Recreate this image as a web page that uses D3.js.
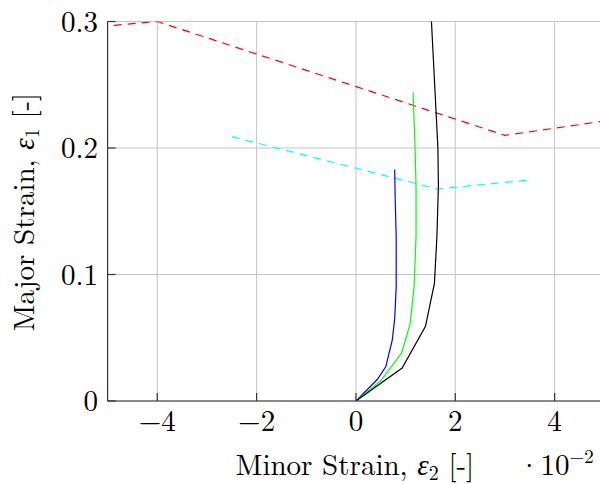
<!DOCTYPE html>
<html>
<head>
<meta charset="utf-8">
<script src="https://cdn.jsdelivr.net/npm/d3@7"></script>
<style>
  body { margin: 0; background: #fff; }
  svg { display: block; overflow: hidden; }
  text { font-family: "Latin Modern Roman", "CMU Serif", "Liberation Serif", serif; fill: #000; }
</style>
</head>
<body>
<svg id="chart" width="600" height="484"></svg>
<script>
// tick values (x axis is in units of 10^-2)
var xTicks = [-4, -2, 0, 2, 4];
var yTicks = [0, 0.1, 0.2, 0.3];

// forming limit curves
var redX = [-6, -4, 3, 6];
var redY = [0.293, 0.3, 0.21, 0.227];
var cyanX = [-2.5, 1.64, 3.5];
var cyanY = [0.209, 0.1676, 0.1747];

// strain paths
var blackX = [0, 0.93, 1.40, 1.58, 1.63, 1.66, 1.65, 1.52, 1.48];
var blackY = [0, 0.026, 0.059, 0.093, 0.13, 0.17, 0.2, 0.3, 0.33];
var greenX = [0, 0.5, 0.92, 1.09, 1.17, 1.21, 1.21, 1.19, 1.15];
var greenY = [0, 0.016, 0.038, 0.061, 0.09, 0.13, 0.17, 0.2, 0.244];
var blueX = [0, 0.43, 0.6, 0.73, 0.78, 0.81, 0.81, 0.79, 0.78];
var blueY = [0, 0.017, 0.027, 0.048, 0.065, 0.09, 0.13, 0.16, 0.183];

(function() {
  var svg = d3.select('#chart');
  var mLeft = 107.6, mRight = 604.3, mTop = 21.5, mBottom = 401;

  var x = d3.scaleLinear().domain([-5, 5]).range([mLeft, mRight]);
  var y = d3.scaleLinear().domain([0, 0.3]).range([mBottom, mTop]);

  svg.append('clipPath').attr('id', 'clip')
    .append('rect')
    .attr('x', mLeft).attr('y', mTop)
    .attr('width', mRight - mLeft).attr('height', mBottom - mTop);

  // grid
  var grid = svg.append('g').attr('stroke', '#c4c4c4').attr('stroke-width', 1);
  grid.selectAll('.gx').data(xTicks).enter().append('line')
    .attr('x1', function(d) { return x(d); }).attr('x2', function(d) { return x(d); })
    .attr('y1', mTop).attr('y2', mBottom);
  grid.selectAll('.gy').data(yTicks).enter().append('line')
    .attr('x1', mLeft).attr('x2', mRight)
    .attr('y1', function(d) { return y(d); }).attr('y2', function(d) { return y(d); });

  // curves
  var line = d3.line()
    .x(function(d) { return x(d[0]); })
    .y(function(d) { return y(d[1]); });

  var series = [
    {xs: redX, ys: redY, color: '#ff0000', dash: '8,6'},
    {xs: cyanX, ys: cyanY, color: '#00ffff', dash: '8,6'},
    {xs: blueX, ys: blueY, color: '#0000ff', dash: null},
    {xs: greenX, ys: greenY, color: '#00ff00', dash: null},
    {xs: blackX, ys: blackY, color: '#000000', dash: null}
  ];

  var plot = svg.append('g').attr('clip-path', 'url(#clip)');
  series.forEach(function(s) {
    plot.append('path')
      .datum(d3.zip(s.xs, s.ys))
      .attr('d', line)
      .attr('fill', 'none')
      .attr('stroke', s.color)
      .attr('stroke-width', 1.2)
      .attr('stroke-dasharray', s.dash);
  });

  // axes: left and bottom only, inward ticks
  var axes = svg.append('g').attr('stroke', '#333').attr('stroke-width', 1.2);
  axes.append('line').attr('x1', mLeft).attr('x2', mLeft).attr('y1', mTop).attr('y2', mBottom);
  axes.append('line').attr('x1', mLeft).attr('x2', mRight).attr('y1', mBottom).attr('y2', mBottom);
  axes.selectAll('.tx').data(xTicks).enter().append('line')
    .attr('x1', function(d) { return x(d); }).attr('x2', function(d) { return x(d); })
    .attr('y1', mBottom).attr('y2', mBottom - 8);
  axes.selectAll('.ty').data(yTicks).enter().append('line')
    .attr('x1', mLeft).attr('x2', mLeft + 8)
    .attr('y1', function(d) { return y(d); }).attr('y2', function(d) { return y(d); });

  // tick labels
  svg.selectAll('.lx').data(xTicks).enter().append('text')
    .attr('x', function(d) { return x(d); })
    .attr('y', 431)
    .attr('text-anchor', 'middle')
    .style('font-size', '29px')
    .text(function(d) { return d < 0 ? '\u2212' + (-d) : d; });

  svg.selectAll('.ly').data(yTicks).enter().append('text')
    .attr('x', 98)
    .attr('y', function(d) { return y(d) + 10; })
    .attr('text-anchor', 'end')
    .style('font-size', '29px')
    .text(function(d) { return d === 0 ? '0' : d3.format('.1f')(d); });

  // axis labels
  var xl = svg.append('text')
    .attr('x', 355).attr('y', 475)
    .attr('text-anchor', 'middle')
    .style('font-size', '29px');
  xl.append('tspan').text('Minor Strain, ');
  xl.append('tspan').style('font-style', 'italic').text('\u03b5');
  xl.append('tspan').attr('dy', 5).style('font-size', '20px').text('2');
  xl.append('tspan').attr('dy', -5).text(' [-]');

  var yl = svg.append('text')
    .attr('transform', 'translate(34,212) rotate(-90)')
    .attr('text-anchor', 'middle')
    .style('font-size', '29px');
  yl.append('tspan').text('Major Strain, ');
  yl.append('tspan').style('font-style', 'italic').text('\u03b5');
  yl.append('tspan').attr('dy', 5).style('font-size', '20px').text('1');
  yl.append('tspan').attr('dy', -5).text(' [-]');

  var sc = svg.append('text')
    .attr('x', 518).attr('y', 475)
    .style('font-size', '29px');
  sc.append('tspan').text('\u00b710');
  sc.append('tspan').attr('dy', -12).style('font-size', '19px').text('\u22122');
})();
</script>
</body>
</html>
